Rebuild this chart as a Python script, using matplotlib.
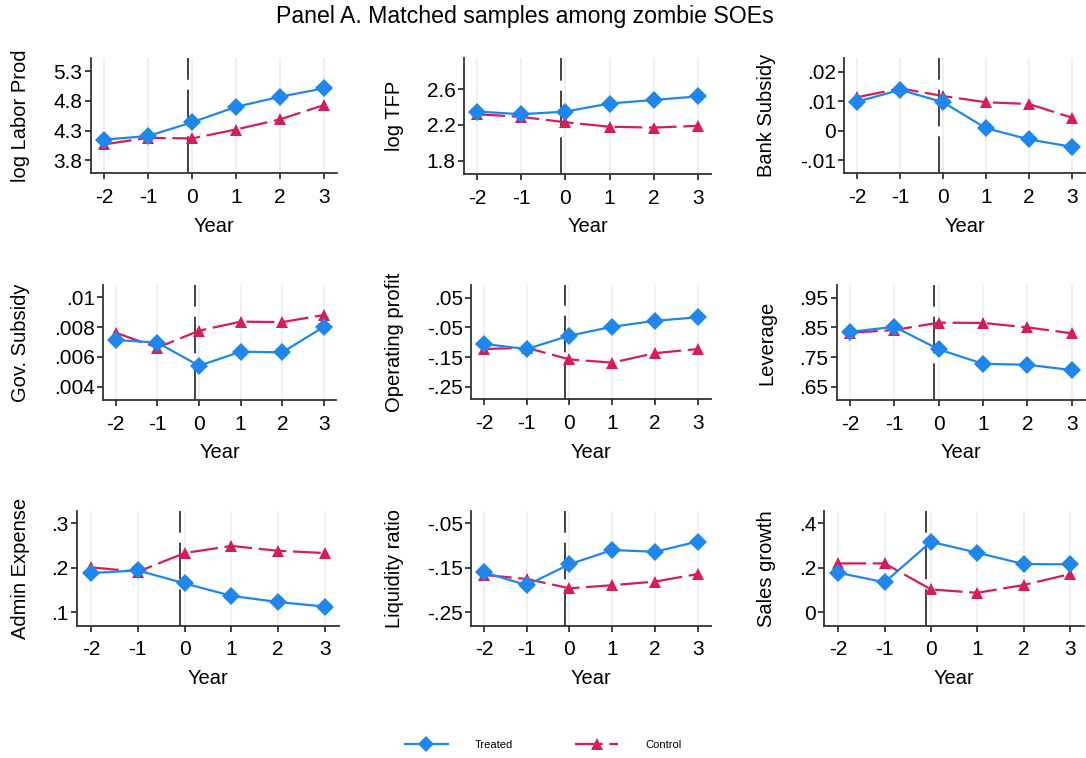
import matplotlib
matplotlib.use("Agg")
import matplotlib.pyplot as plt
from matplotlib.lines import Line2D

plt.rcParams['font.family'] = ['Liberation Sans', 'DejaVu Sans']

years = [-2, -1, 0, 1, 2, 3]
year_labels = ['-2', '-1', '0', '1', '2', '3']
event_line = -0.1

titles = ["log Labor Prod", "log TFP", "Bank Subsidy",
          "Gov. Subsidy", "Operating profit", "Leverage",
          "Admin Expense", "Liquidity ratio", "Sales growth"]

labor_treated = [4.15, 4.21, 4.44, 4.70, 4.87, 5.01]
labor_control = [4.07, 4.18, 4.17, 4.32, 4.49, 4.73]
tfp_treated = [2.35, 2.32, 2.35, 2.44, 2.48, 2.52]
tfp_control = [2.32, 2.29, 2.23, 2.18, 2.17, 2.19]
bank_treated = [0.0098, 0.0138, 0.0096, 0.0008, -0.0030, -0.0055]
bank_control = [0.0113, 0.0143, 0.0117, 0.0096, 0.0090, 0.0044]
gov_treated = [0.00714, 0.00696, 0.00541, 0.00635, 0.00631, 0.00803]
gov_control = [0.00763, 0.00662, 0.00776, 0.00837, 0.00834, 0.00882]
opprof_treated = [-0.106, -0.123, -0.078, -0.048, -0.028, -0.016]
opprof_control = [-0.123, -0.119, -0.158, -0.169, -0.137, -0.123]
lev_treated = [0.835, 0.852, 0.776, 0.727, 0.724, 0.706]
lev_control = [0.832, 0.841, 0.866, 0.865, 0.850, 0.830]
admin_treated = [0.188, 0.194, 0.165, 0.137, 0.123, 0.113]
admin_control = [0.201, 0.191, 0.233, 0.249, 0.238, 0.233]
liq_treated = [-0.160, -0.189, -0.142, -0.110, -0.114, -0.091]
liq_control = [-0.166, -0.175, -0.196, -0.189, -0.181, -0.164]
sales_treated = [0.178, 0.135, 0.317, 0.268, 0.217, 0.216]
sales_control = [0.220, 0.220, 0.103, 0.088, 0.123, 0.172]

treated = [labor_treated, tfp_treated, bank_treated, gov_treated, opprof_treated,
           lev_treated, admin_treated, liq_treated, sales_treated]
control = [labor_control, tfp_control, bank_control, gov_control, opprof_control,
           lev_control, admin_control, liq_control, sales_control]

yticks = [[3.8, 4.3, 4.8, 5.3], [1.8, 2.2, 2.6], [-0.01, 0, 0.01, 0.02],
          [0.004, 0.006, 0.008, 0.01], [-0.25, -0.15, -0.05, 0.05], [0.65, 0.75, 0.85, 0.95],
          [0.1, 0.2, 0.3], [-0.25, -0.15, -0.05], [0, 0.2, 0.4]]
ytick_labels = [["3.8", "4.3", "4.8", "5.3"], ["1.8", "2.2", "2.6"], ["-.01", "0", ".01", ".02"],
                [".004", ".006", ".008", ".01"], ["-.25", "-.15", "-.05", ".05"], [".65", ".75", ".85", ".95"],
                [".1", ".2", ".3"], ["-.25", "-.15", "-.05"], ["0", ".2", ".4"]]

# layout: (pixel x of tick -2, pixel x of tick 3, top px, bottom px, ylim)
layout = [
    (104, 324, 58, 173, (3.59, 5.52)),
    (477.3, 697.7, 58.3, 174, (1.65, 2.947)),
    (857.3, 1071.7, 58.3, 173.3, (-0.0145, 0.0245)),
    (115.7, 324, 285, 400, (0.00311, 0.01083)),
    (484, 697.7, 285, 399.3, (-0.2925, 0.0928)),
    (850, 1071.7, 285, 400, (0.605, 0.993)),
    (91, 325, 510.7, 625.7, (0.070, 0.328)),
    (484, 697.7, 510.7, 625.7, (-0.280, -0.0217)),
    (838.3, 1070, 510.7, 625.7, (-0.060, 0.457)),
]
ylabel_x = [20.5, 395, 767]

W, H = 1086, 758
fig = plt.figure(figsize=(W / 100, H / 100), dpi=100)
fig.patch.set_facecolor('white')

BLUE = '#1f86ec'
RED = '#d81b5c'
AXC = '#333333'
pad = 0.3
CTRL_DASH = (0, (12.5, 3))

for i in range(9):
    xm2, x3, top, bot, ylim = layout[i]
    s = (x3 - xm2) / 5.0
    l = xm2 - pad * s
    r = x3 + pad * s
    ax = fig.add_axes([l / W, 1 - bot / H, (r - l) / W, (bot - top) / H])
    ax.set_xlim(-2 - pad, 3 + pad)
    ax.set_ylim(*ylim)
    for x in years:
        ax.axvline(x, color='#f0f0f0', lw=1.5, zorder=0)
    ax.axvline(event_line, color='#222222', lw=1.2, ls=(0, (22, 6)), zorder=1)
    ax.plot(years, control[i], color=RED, lw=1.6, ls=CTRL_DASH, marker='^',
            ms=9, markeredgewidth=0, zorder=3)
    ax.plot(years, treated[i], color=BLUE, lw=1.6, marker='D', ms=9,
            markeredgewidth=0, zorder=4)
    ax.set_xticks(years)
    ax.set_xticklabels(year_labels)
    ax.set_yticks(yticks[i])
    ax.set_yticklabels(ytick_labels[i])
    for sp in ['top', 'right']:
        ax.spines[sp].set_visible(False)
    for sp in ['left', 'bottom']:
        ax.spines[sp].set_color(AXC)
        ax.spines[sp].set_linewidth(1.3)
    ax.tick_params(axis='both', colors=AXC, labelcolor='black', labelsize=15,
                   length=4.5, width=1.3, direction='out')
    ax.tick_params(axis='x', pad=6)
    ax.tick_params(axis='y', pad=1.5)
    ax.set_xlabel('Year', fontsize=14.5)
    ax.set_ylabel(titles[i], fontsize=14.5)
    lx = ylabel_x[i % 3]
    ax.yaxis.set_label_coords((lx - l) / (r - l), 0.5)
    ax.yaxis.label.set_va('center')
    ax.yaxis.label.set_ha('center')
    ax.xaxis.set_label_coords(0.5, -(53) / (bot - top))
    ax.xaxis.label.set_va('center')
    ax.set_facecolor('white')

fig.text(0.483, 1 - 16 / H, 'Panel A. Matched samples among zombie SOEs',
         ha='center', va='center', fontsize=16.7)

h1 = Line2D([], [], color=BLUE, lw=1.6, marker='D', ms=8, markeredgewidth=0)
h2 = Line2D([], [], color=RED, lw=1.6, ls=CTRL_DASH, marker='^', ms=8, markeredgewidth=0)
fig.legend([h1, h2], ['Treated', 'Control'], loc='center', bbox_to_anchor=(0.50, 1 - 745 / H),
           ncol=2, frameon=False, fontsize=8, handlelength=3.9, handletextpad=2.4,
           columnspacing=5.6)

fig.savefig('out.png', dpi=100, facecolor='white')
